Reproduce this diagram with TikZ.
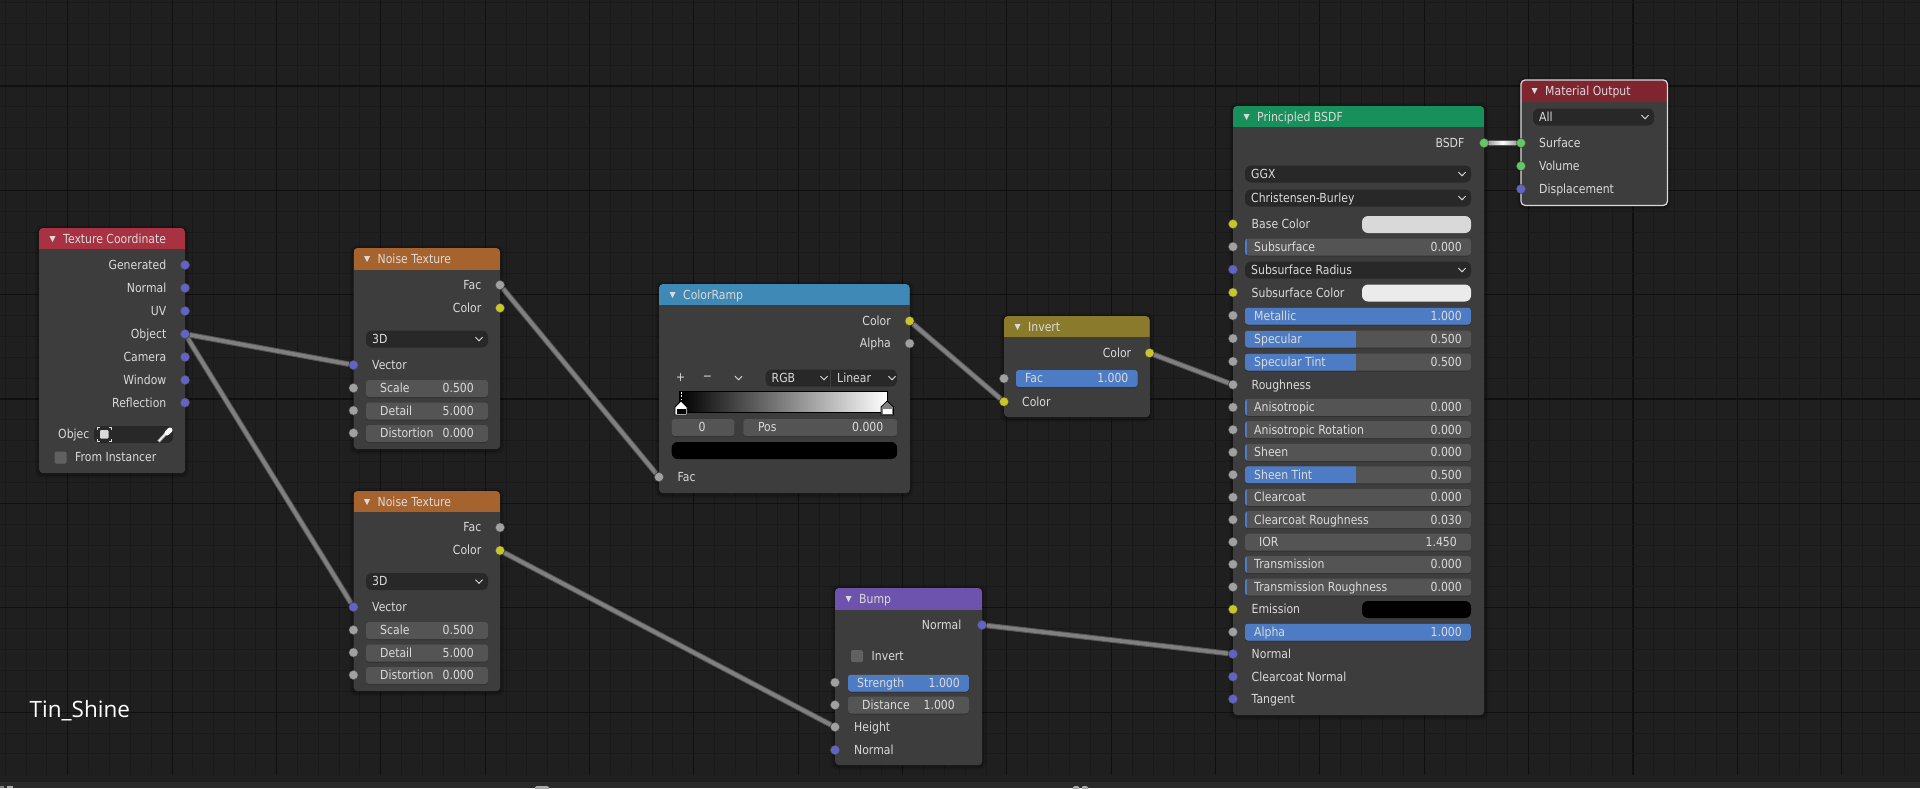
\documentclass[tikz,border=0pt]{standalone}
\usepackage{fontspec}
\setmainfont{DejaVu Sans}
\newfontfamily\blfont[FakeStretch=0.87]{DejaVu Sans}
\newfontfamily\capfont{Open Sans}
\usetikzlibrary{calc}
\pgfdeclarelayer{back}\pgfdeclarelayer{wires}
\pgfsetlayers{back,wires,main}
\definecolor{bgc}{HTML}{1F1F1F}
\definecolor{gridminor}{HTML}{191919}
\definecolor{gridmajor}{HTML}{101010}
\definecolor{bodyc}{HTML}{404040}
\definecolor{fieldc}{HTML}{545454}
\definecolor{dropc}{HTML}{282828}
\definecolor{slidec}{HTML}{4D7CC4}
\definecolor{txtc}{HTML}{DADADA}
\definecolor{sblue}{HTML}{6363C7}
\definecolor{sgray}{HTML}{A1A1A1}
\definecolor{syellow}{HTML}{C7C729}
\definecolor{sgreen}{HTML}{63C763}
\definecolor{hred}{HTML}{A83241}
\definecolor{horange}{HTML}{A7632E}
\definecolor{hblue}{HTML}{3F89B6}
\definecolor{holive}{HTML}{8A7A2C}
\definecolor{hgreen}{HTML}{18905C}
\definecolor{hdred}{HTML}{7F2530}
\definecolor{hpurple}{HTML}{6D53AD}
\definecolor{stripc}{HTML}{2A2A2A}
\definecolor{iconc}{HTML}{ADADAD}
\newcount\tnum
\newcommand\nextid{\global\advance\tnum by 1\relax}
\tikzset{
  lbl/.style={inner sep=0pt,text=txtc,font=\blfont\fontsize{12.5}{14}\selectfont},
  bodybox/.style={fill=bodyc,fill opacity=.95,rounded corners=4pt,inner sep=0pt,anchor=north west},
  sock/.style={circle,inner sep=0pt,minimum size=9.2pt,draw=black!70,line width=.4pt},
  wire/.style={line width=1pt,draw=black!66,double=black!50,double distance=3.6pt},
  fieldbox/.style={fill=fieldc,rounded corners=3pt},
  dropbox/.style={fill=dropc,rounded corners=6pt},
  chev/.style={draw=txtc,line width=1pt,line join=round},
  under/.style={fill=black,fill opacity=.18,rounded corners=3pt}
}
\newcommand\lblR[3]{\nextid\node[lbl,anchor=base east] (t\the\tnum) at ({#1},{#2+4.4}) {#3};}
\newcommand\lblL[3]{\nextid\node[lbl,anchor=base west] (t\the\tnum) at ({#1},{#2+4.4}) {#3};}
\newcommand\blnode[8]{%
  \fill[black,opacity=.10,rounded corners=7pt] (#2-4,#3-3) rectangle (#4+4,#5+5);
  \fill[black,opacity=.16,rounded corners=5pt] (#2-2,#3-1) rectangle (#4+2,#5+3);
  \node[bodybox,minimum width={(#4-#2)*1pt},minimum height={(#5-#3)*1pt}] (#1) at (#2,#3) {};
  \begin{scope}\clip[rounded corners=4pt] (#2,#3) rectangle (#4,#5);
  \fill[#7] (#2,#3) rectangle (#4,#6);\end{scope}
  \fill[txtc] (#2+10.5,#3+8) -- (#2+16.5,#3+8) -- (#2+13.5,#3+14) -- cycle;
  \lblL{#2+24}{(#3+#6)/2+.6}{#8}
}
\newcommand\sockat[4]{\node[sock,fill=#4] (#1) at (#2,#3) {};}
\newcommand\fieldbg[3]{%
  \fill[under] (#1,#3-7.5) rectangle (#2,#3+9.5);
  \fill[fieldbox] (#1,#3-8.5) rectangle (#2,#3+8.5);
}
\newcommand\field[5]{\fieldbg{#1}{#2}{#3}\lblL{#1+14}{#3}{#4}\lblR{#2-14}{#3}{#5}}
% x1 x2 y bluewidth label value
\newcommand\slider[6]{\fieldbg{#1}{#2}{#3}%
  \begin{scope}\clip[rounded corners=3pt] (#1,#3-8.5) rectangle (#2,#3+8.5);
  \fill[slidec] (#1,#3-8.5) rectangle (#1+#4,#3+8.5);\end{scope}
  \lblL{#1+9}{#3}{#5}\lblR{#2-9}{#3}{#6}}
\newcommand\chevron[2]{\draw[chev] (#1-3.5,#2-1.8) -- (#1,#2+1.8) -- (#1+3.5,#2-1.8);}
\newcommand\dropd[4]{\fill[dropbox] (#1,#3-8.5) rectangle (#2,#3+8.5);
  \lblL{#1+6}{#3}{#4}\chevron{#2-9}{#3}}
\newcommand\swatch[4]{\fill[#4,rounded corners=6pt] (#1,#3-8.5) rectangle (#2,#3+8.5);}
\newcommand\checkb[2]{\fill[black!60!white,fill opacity=.9,rounded corners=1.5pt] (#1,#2-6) rectangle (#1+12,#2+6);}
\begin{document}
\begin{tikzpicture}[x=1pt,y=-1pt]
\useasboundingbox (0,0) rectangle (1920,788);
\begin{pgfonlayer}{back}
\fill[bgc] (0,0) rectangle (1920,788);
\foreach \i in {0,...,91}{
  \pgfmathtruncatemacro\m{mod(\i,5)}
  \ifnum\m=3 \draw[gridmajor,line width=1.1pt] (5.1+\i*20.87,0) -- (5.1+\i*20.87,775);
  \else \draw[gridminor,line width=.9pt] (5.1+\i*20.87,0) -- (5.1+\i*20.87,775);\fi
}
\foreach \i in {0,...,36}{
  \pgfmathtruncatemacro\m{mod(\i,5)}
  \ifnum\m=4 \draw[gridmajor,line width=1.1pt] (0,2.5+\i*20.87) -- (1920,2.5+\i*20.87);
  \else \draw[gridminor,line width=.9pt] (0,2.5+\i*20.87) -- (1920,2.5+\i*20.87);\fi
}
\fill[bgc] (0,775) rectangle (1920,782);
\fill[stripc] (0,782) rectangle (1920,788);
\fill[iconc!75!black] (0,785.5) rectangle (4,788);
\fill[iconc] (7,785.5) rectangle (13,788);
\fill[iconc,rounded corners=1pt] (534,789) -- (536,786) -- (548,786) -- (550,789) -- cycle;
\fill[iconc,rounded corners=1pt] (1072,789) -- (1074,786) -- (1079,786) -- (1079,789) -- cycle;
\fill[iconc,rounded corners=1pt] (1082,789) -- (1082,786) -- (1087,786) -- (1089,789) -- cycle;
\end{pgfonlayer}

% ---------- Texture Coordinate
\blnode{tc}{39}{228}{185}{473}{249}{hred}{Texture Coordinate}
\lblR{166.5}{265}{Generated}\sockat{tcgen}{185}{265}{sblue}
\lblR{166.5}{288}{Normal}\sockat{tcnor}{185}{288}{sblue}
\lblR{166.5}{311}{UV}\sockat{tcuv}{185}{311}{sblue}
\lblR{166.5}{334}{Object}\sockat{tcobj}{185}{334}{sblue}
\lblR{166.5}{357}{Camera}\sockat{tccam}{185}{357}{sblue}
\lblR{166.5}{380}{Window}\sockat{tcwin}{185}{380}{sblue}
\lblR{166.5}{402.6}{Reflection}\sockat{tcref}{185}{402.6}{sblue}
\lblL{58}{434.5}{Objec}
\fill[dropbox] (94,426) rectangle (173,443);
\fill[txtc,rounded corners=1pt] (100,430) rectangle (108.5,438.5);
\draw[txtc,line width=.8pt] (97,430) -- (97,427.5) -- (100,427.5) (109,427.5) -- (111.5,427.5) -- (111.5,430)
  (111.5,439) -- (111.5,441.5) -- (109,441.5) (100,441.5) -- (97,441.5) -- (97,439);
\draw[black!30,line width=3pt] (158.5,441.5) -- (166,433.5);
\draw[white,line width=1pt] (159,441) -- (165,434.5);
\draw[white,line width=5pt,line cap=round] (167,433) -- (170,430);
\checkb{54.5}{457.5}
\lblL{75}{457.5}{From Instancer}

% ---------- Noise Texture 1
\blnode{na}{353.5}{248}{500}{449}{269.5}{horange}{Noise Texture}
\lblR{481.5}{285}{Fac}\sockat{nafac}{500}{285}{sgray}
\lblR{481.5}{308}{Color}\sockat{nacol}{500}{308}{syellow}
\dropd{366}{488}{339}{3D}
\lblL{372}{365.5}{Vector}\sockat{navec}{353.5}{365}{sblue}
\field{366}{488}{388.5}{Scale}{0.500}\sockat{nasca}{353.5}{388}{sgray}
\field{366}{488}{411}{Detail}{5.000}\sockat{nadet}{353.5}{410.5}{sgray}
\field{366}{488}{433.5}{Distortion}{0.000}\sockat{nadis}{353.5}{433}{sgray}

% ---------- Noise Texture 2
\blnode{nb}{353.5}{491}{500}{691}{512}{horange}{Noise Texture}
\lblR{481.5}{527.5}{Fac}\sockat{nbfac}{500}{527.5}{sgray}
\lblR{481.5}{550.5}{Color}\sockat{nbcol}{500}{550.5}{syellow}
\dropd{366}{488}{581.5}{3D}
\lblL{372}{607.5}{Vector}\sockat{nbvec}{353.5}{607}{sblue}
\field{366}{488}{630.5}{Scale}{0.500}\sockat{nbsca}{353.5}{630}{sgray}
\field{366}{488}{653}{Detail}{5.000}\sockat{nbdet}{353.5}{652.5}{sgray}
\field{366}{488}{675.5}{Distortion}{0.000}\sockat{nbdis}{353.5}{675}{sgray}

% ---------- ColorRamp
\blnode{cr}{659}{284}{909.6}{493}{305}{hblue}{ColorRamp}
\lblR{891}{321}{Color}\sockat{crcol}{909.6}{321}{syellow}
\lblR{891}{343.5}{Alpha}\sockat{cralp}{909.6}{343.5}{sgray}
\nextid\node[lbl,anchor=center] (t\the\tnum) at (680.6,378) {+};
\nextid\node[lbl,anchor=center] (t\the\tnum) at (707.5,378) {−};
\chevron{738.5}{378}
\fill[dropbox] (765.7,369.5) rectangle (897,386.5);
\draw[bodyc,line width=1.4pt] (830.2,369.5) -- (830.2,386.5);
\lblL{771.5}{378}{RGB}\chevron{824}{378}
\lblL{837}{378}{Linear}\chevron{892}{378}
\shade[left color=black,right color=white] (679.6,391) rectangle (887.2,412);
\draw[black,line width=1pt] (679.6,391) rectangle (887.2,412);
\draw[white,line width=1pt,dash pattern=on 2pt off 1.5pt] (681,391.5) -- (681,400);
\fill[white,draw=black,line width=.8pt] (675,415) -- (675,407) -- (681,401) -- (687,407) -- (687,415) -- cycle;
\fill[black] (676.5,408.5) rectangle (685.5,414);
\fill[gray,draw=black,line width=.8pt] (881,415) -- (881,407) -- (887.2,401) -- (893.5,407) -- (893.5,415) -- cycle;
\fill[white] (882.5,408.5) rectangle (892,414);
\fieldbg{671.7}{734.4}{427.5}
\nextid\node[lbl,anchor=base] (t\the\tnum) at (702,431.9) {0};
\fieldbg{743.3}{897.2}{427.5}
\lblL{757.8}{427.5}{Pos}\lblR{883.5}{427.5}{0.000}
\fill[black,rounded corners=6pt] (671.7,442) rectangle (897.2,459);
\lblL{677.5}{477}{Fac}\sockat{crfac}{659}{477}{sgray}

% ---------- Invert
\blnode{iv}{1004}{316}{1149.6}{417}{337}{holive}{Invert}
\lblR{1131.4}{353}{Color}\sockat{ivout}{1149.6}{353}{syellow}
\slider{1016}{1137.6}{378.5}{121.6}{Fac}{1.000}\sockat{ivfac}{1004}{378.5}{sgray}
\lblL{1022}{401.7}{Color}\sockat{ivcol}{1004}{401.7}{syellow}

% ---------- Bump
\blnode{bp}{835}{588}{982}{765}{609.5}{hpurple}{Bump}
\lblR{961.5}{625}{Normal}\sockat{bpout}{982}{625}{sblue}
\checkb{851}{656}
\lblL{871.5}{656}{Invert}
\slider{848}{969}{683}{121}{Strength}{1.000}\sockat{bpstr}{835}{682.5}{sgray}
\field{848}{969}{705}{Distance}{1.000}\sockat{bpdis}{835}{705}{sgray}
\lblL{854}{727.5}{Height}\sockat{bphei}{835}{727}{sgray}
\lblL{854}{750}{Normal}\sockat{bpnor}{835}{750}{sblue}

% ---------- Principled BSDF
\blnode{pb}{1233}{106}{1484}{715}{127}{hgreen}{Principled BSDF}
\lblR{1464.5}{143.5}{BSDF}\sockat{pbout}{1484}{143}{sgreen}
\dropd{1245}{1471}{174}{GGX}
\dropd{1245}{1471}{198}{Christensen-Burley}
\lblL{1251.5}{224.5}{Base Color}\swatch{1362}{1471}{224.5}{black!15!white}\sockat{pbbase}{1233}{224}{syellow}
\slider{1245}{1471}{247}{2}{Subsurface}{0.000}\sockat{pbsub}{1233}{246.7}{sgray}
\dropd{1245}{1471}{270}{Subsurface Radius}\sockat{pbrad}{1233}{269.5}{sblue}
\lblL{1251.5}{293}{Subsurface Color}\swatch{1362}{1471}{293}{black!8!white}\sockat{pbcol}{1233}{292.5}{syellow}
\slider{1245}{1471}{316}{226}{Metallic}{1.000}\sockat{pbmet}{1233}{315.5}{sgray}
\slider{1245}{1471}{339}{111}{Specular}{0.500}\sockat{pbspe}{1233}{338.5}{sgray}
\slider{1245}{1471}{362}{111}{Specular Tint}{0.500}\sockat{pbtin}{1233}{361.5}{sgray}
\lblL{1251.5}{384.7}{Roughness}\sockat{pbrou}{1233}{384.7}{sgray}
\slider{1245}{1471}{407.3}{2}{Anisotropic}{0.000}\sockat{pbani}{1233}{407.3}{sgray}
\slider{1245}{1471}{429.7}{2}{Anisotropic Rotation}{0.000}\sockat{pbrot}{1233}{429.7}{sgray}
\slider{1245}{1471}{452.4}{2}{Sheen}{0.000}\sockat{pbshe}{1233}{452.3}{sgray}
\slider{1245}{1471}{474.8}{111}{Sheen Tint}{0.500}\sockat{pbsht}{1233}{474.7}{sgray}
\slider{1245}{1471}{497.3}{2}{Clearcoat}{0.000}\sockat{pbcle}{1233}{497.3}{sgray}
\slider{1245}{1471}{519.7}{2}{Clearcoat Roughness}{0.030}\sockat{pbclr}{1233}{519.7}{sgray}
\field{1245}{1471}{542.2}{IOR}{1.450}\sockat{pbior}{1233}{542}{sgray}
\slider{1245}{1471}{564.5}{2}{Transmission}{0.000}\sockat{pbtra}{1233}{564.3}{sgray}
\slider{1245}{1471}{587}{2}{Transmission Roughness}{0.000}\sockat{pbtrr}{1233}{587}{sgray}
\lblL{1251.5}{609.3}{Emission}\swatch{1362}{1471}{609.5}{black}\sockat{pbemi}{1233}{609.3}{syellow}
\slider{1245}{1471}{632}{226}{Alpha}{1.000}\sockat{pbalp}{1233}{632}{sgray}
\lblL{1251.5}{654.3}{Normal}\sockat{pbnor}{1233}{654}{sblue}
\lblL{1251.5}{677}{Clearcoat Normal}\sockat{pbccn}{1233}{676.7}{sblue}
\lblL{1251.5}{699.3}{Tangent}\sockat{pbtan}{1233}{699}{sblue}

% ---------- Material Output
\blnode{mo}{1521}{80}{1667}{205}{101.5}{hdred}{Material Output}
\draw[black!15!white,line width=1.2pt,rounded corners=4pt] (mo.north west) rectangle (mo.south east);
\dropd{1533}{1654}{117}{All}
\lblL{1539}{143.5}{Surface}\sockat{mosur}{1521}{143}{sgreen}
\lblL{1539}{166.5}{Volume}\sockat{movol}{1521}{166}{sgreen}
\lblL{1539}{189.5}{Displacement}\sockat{modis}{1521}{189}{sblue}

% ---------- Caption
\node[inner sep=0pt,anchor=base west,text=white,font=\capfont\fontsize{22.5}{24}\selectfont] (caption) at (29.5,717) {Tin\_Shine};

% ---------- Wires
\begin{pgfonlayer}{wires}
\draw[wire] (tcobj) -- (navec);
\draw[wire] (tcobj) -- (nbvec);
\draw[wire] (nafac) -- (crfac);
\draw[wire] (nbcol) -- (bphei);
\draw[wire] (crcol) -- (ivcol);
\draw[wire] (ivout) -- (pbrou);
\draw[wire] (bpout) -- (pbnor);
\draw[wire] (pbout) -- (mosur);
\shade[left color=black!50,right color=black!50,middle color=white] ([yshift=1.5pt]pbout.center) rectangle ([yshift=-1pt]mosur.center);
\end{pgfonlayer}
\end{tikzpicture}
\end{document}
